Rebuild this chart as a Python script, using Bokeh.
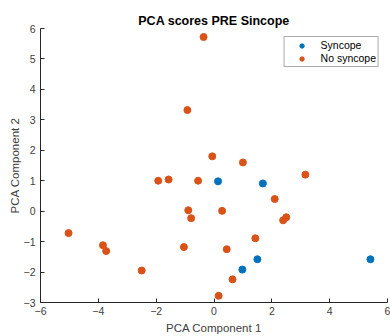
from bokeh.plotting import figure
from bokeh.models import Range1d, SingleIntervalTicker, Legend, LegendItem
from bokeh.embed import file_html
from bokeh.resources import INLINE

# Data
syn_x = [0.14, 1.69, 1.50, 5.41, 0.98]
syn_y = [0.98, 0.91, -1.58, -1.58, -1.92]

nos_x = [-0.36, -0.92, -1.93, -1.57, -0.55, -0.06, 1.00, 3.16, 2.10, -0.89,
         -0.79, 0.28, 2.39, 2.50, -5.03, 1.43, -3.84, -3.73, -1.04, 0.44,
         -2.50, 0.64, 0.16]
nos_y = [5.72, 3.32, 1.00, 1.04, 1.00, 1.80, 1.60, 1.20, 0.40, 0.03,
         -0.23, 0.01, -0.30, -0.20, -0.72, -0.89, -1.12, -1.31, -1.18, -1.25,
         -1.95, -2.24, -2.78]

title_text = "PCA scores PRE Sincope"
x_label = "PCA Component 1"
y_label = "PCA Component 2"
series_names = ["Syncope", "No syncope"]

FONT = "Liberation Sans"
AX = "#262626"

p = figure(width=390, height=336, output_backend="svg", toolbar_location=None,
           x_range=Range1d(-6, 6), y_range=Range1d(-3, 6),
           min_border_left=40, min_border_right=3, min_border_top=28,
           min_border_bottom=34, title=title_text)
p.title.align = "center"
p.title.text_font = FONT
p.title.text_font_size = "12.5px"
p.title.text_font_style = "bold"
p.title.text_color = "#000000"
p.title.offset = 0
p.title.standoff = 2

p.outline_line_color = None
p.grid.visible = False
p.background_fill_color = "white"
p.border_fill_color = "white"

p.xaxis.ticker = SingleIntervalTicker(interval=2, num_minor_ticks=0)
p.yaxis.ticker = SingleIntervalTicker(interval=1, num_minor_ticks=0)
for ax in (p.xaxis[0], p.yaxis[0]):
    ax.axis_line_color = AX
    ax.major_tick_line_color = AX
    ax.major_tick_in = 4
    ax.major_tick_out = 0
    ax.minor_tick_line_color = None
    ax.major_label_text_font = FONT
    ax.major_label_text_font_size = "10.5px"
    ax.major_label_text_color = "#404040"
    ax.axis_label_text_font = FONT
    ax.axis_label_text_font_size = "11.5px"
    ax.axis_label_text_font_style = "normal"
    ax.axis_label_text_color = "#404040"
p.xaxis.axis_label = x_label
p.yaxis.axis_label = y_label
p.xaxis.major_label_standoff = 4
p.yaxis.major_label_standoff = 5
p.xaxis.axis_label_standoff = 4
p.yaxis.axis_label_standoff = 0

r1 = p.scatter(syn_x, syn_y, size=7, color="#0072BD")
r2 = p.scatter(nos_x, nos_y, size=7, color="#D95319")

legend = Legend(items=[LegendItem(label=series_names[0], renderers=[r1]),
                       LegendItem(label=series_names[1], renderers=[r2])],
                location="top_right")
legend.margin = 8
legend.padding = 2
legend.spacing = 1
legend.label_text_font = FONT
legend.label_text_font_size = "10.5px"
legend.label_text_color = "#000000"
legend.label_height = 11
legend.glyph_height = 11
legend.glyph_width = 30
legend.label_standoff = 4
legend.border_line_color = "#555555"
legend.border_line_width = 1
legend.background_fill_alpha = 1
p.add_layout(legend, "center")

open("out.html", "w").write(file_html(p, INLINE))
